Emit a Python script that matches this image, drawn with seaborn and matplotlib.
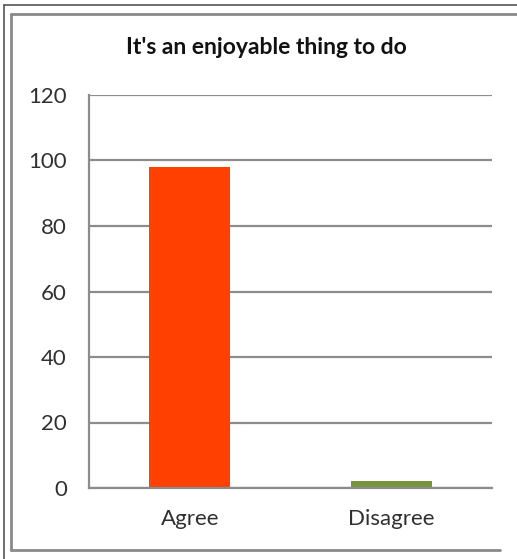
import matplotlib
matplotlib.use("Agg")
import matplotlib.pyplot as plt
from matplotlib.lines import Line2D
import seaborn as sns
import pandas as pd

categories = ["Agree", "Disagree"]
values = [98, 2]
bar_colors = ["#FF4000", "#77933C"]
y_ticks = [0, 20, 40, 60, 80, 100, 120]
title = "It's an enjoyable thing to do"

sns.set_theme(style="white")
plt.rcParams["font.family"] = ["Lato", "DejaVu Sans"]

W, H = 517, 559
fig = plt.figure(figsize=(W / 100, H / 100), dpi=100)
fig.patch.set_facecolor("white")

ax = fig.add_axes([89 / W, 71 / H, (492 - 89) / W, (488 - 95) / H])

df = pd.DataFrame({"category": categories, "value": values})
sns.barplot(data=df, x="category", y="value", hue="category",
            palette=bar_colors, width=0.4, legend=False, ax=ax,
            saturation=1, edgecolor="none")

ax.set_ylim(0, 120)
ax.set_yticks(y_ticks)
ax.set_xlim(-0.5, 1.5)
ax.set_xlabel("")
ax.set_ylabel("")
ax.yaxis.grid(True, color="#8c8c8c", linewidth=1.6)
ax.set_axisbelow(True)
for side in ["top", "right"]:
    ax.spines[side].set_visible(False)
ax.spines["left"].set_color("#8c8c8c")
ax.spines["left"].set_linewidth(1.6)
ax.spines["bottom"].set_color("#8c8c8c")
ax.spines["bottom"].set_linewidth(1.6)
ax.tick_params(axis="y", length=0, pad=16, labelsize=16, labelcolor="#303030")
ax.tick_params(axis="x", length=0, pad=15, labelsize=16, labelcolor="#303030")

fig.text(266 / W, 1 - 47 / H, title, ha="center", va="center",
         fontsize=16.5, fontweight="bold", color="#111111")

# frame lines around the chart
def hline(y, x0, x1, color, lw):
    fig.add_artist(Line2D([x0 / W, x1 / W], [1 - y / H, 1 - y / H],
                          color=color, linewidth=lw, transform=fig.transFigure))

def vline(x, y0, y1, color, lw):
    fig.add_artist(Line2D([x / W, x / W], [1 - y0 / H, 1 - y1 / H],
                          color=color, linewidth=lw, transform=fig.transFigure))

hline(5, 4, W, "#555555", 1.2)
vline(4, 5, H, "#555555", 1.2)
hline(13.5, 11, W, "#8a8a8a", 2.0)
vline(11, 13.5, 549.5, "#8a8a8a", 2.0)
hline(549.5, 11, 500, "#8a8a8a", 2.0)

fig.savefig("out.png", dpi=100)
